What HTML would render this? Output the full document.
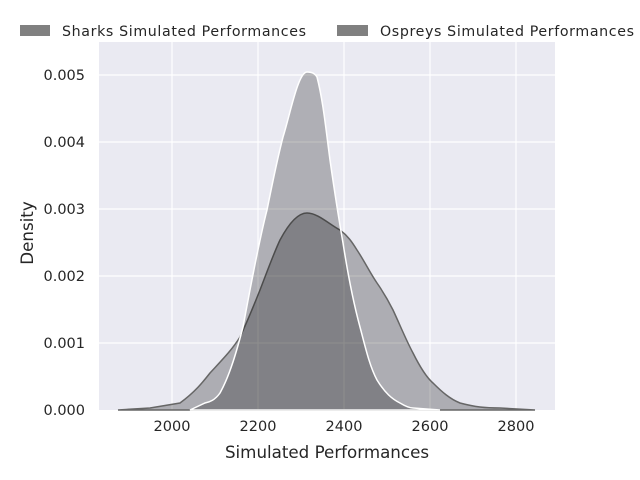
<!DOCTYPE html>
<html><head><style>body{margin:0;background:#fff}svg{display:block}</style></head><body>
<svg width="640" height="480" viewBox="0 0 640 480" xmlns="http://www.w3.org/2000/svg" font-family="DejaVu Sans, Liberation Sans, sans-serif">
<rect x="99" y="42" width="456" height="368" fill="#eaeaf2"/>
<g stroke="#fff" stroke-width="1.2">
<line x1="172" y1="42" x2="172" y2="410"/><line x1="258" y1="42" x2="258" y2="410"/><line x1="344" y1="42" x2="344" y2="410"/><line x1="430" y1="42" x2="430" y2="410"/><line x1="516" y1="42" x2="516" y2="410"/>
<line x1="99" y1="343" x2="555" y2="343"/><line x1="99" y1="276" x2="555" y2="276"/><line x1="99" y1="209" x2="555" y2="209"/><line x1="99" y1="142" x2="555" y2="142"/><line x1="99" y1="75" x2="555" y2="75"/>
</g>
<path d="M118,410 L150,408 L180,403 C195,392 203,382 210,373 C222,360 232,350 240,337 C248,320 254,305 260,290 C267,272 273,255 280,240 C288,225 297,213 307,213 C318,213 330,225 340,230 C348,236 352,242 357,250 C365,262 370,273 377,283 C384,293 388,300 393,310 C400,325 406,340 413,353 C420,367 426,377 433,383 C442,392 450,399 460,403 C475,407 485,408 500,408 L535,410 Z" fill="#000" fill-opacity="0.26" stroke="#666" stroke-width="1.5"/>
<path d="M190,410 L205,403 C210,402 215,400 220,393 C230,375 237,350 243,327 C250,290 258,245 267,210 C272,185 277,160 283,137 C290,115 298,72 307,72 C313,72 315,74 317,77 C323,100 326,130 330,160 C335,195 339,220 343,243 C348,275 354,305 360,327 C366,350 370,367 377,380 C385,393 392,399 400,403 C405,406 409,408 413,408 L440,410 Z" fill="#000" fill-opacity="0.25" stroke="#fff" stroke-width="1.5"/>
<g font-size="14.5" fill="#262626" text-anchor="middle">
<text x="172" y="431">2000</text><text x="258" y="431">2200</text><text x="344" y="431">2400</text><text x="430" y="431">2600</text><text x="516" y="431">2800</text>
</g>
<g font-size="14.5" fill="#262626" text-anchor="end">
<text x="85" y="415">0.000</text><text x="85" y="348">0.001</text><text x="85" y="281">0.002</text><text x="85" y="214">0.003</text><text x="85" y="147">0.004</text><text x="85" y="80">0.005</text>
</g>
<text x="327" y="458" font-size="16.7" fill="#262626" text-anchor="middle">Simulated Performances</text>
<text transform="translate(33,233) rotate(-90)" font-size="16.7" fill="#262626" text-anchor="middle">Density</text>
<rect x="20" y="25" width="30" height="11" fill="#808080"/>
<text x="62" y="36" font-size="14.2" fill="#262626" textLength="244">Sharks Simulated Performances</text>
<rect x="337" y="25" width="31" height="11" fill="#808080"/>
<text x="380" y="36" font-size="14.2" fill="#262626" textLength="254">Ospreys Simulated Performances</text>
</svg>
</body></html>
